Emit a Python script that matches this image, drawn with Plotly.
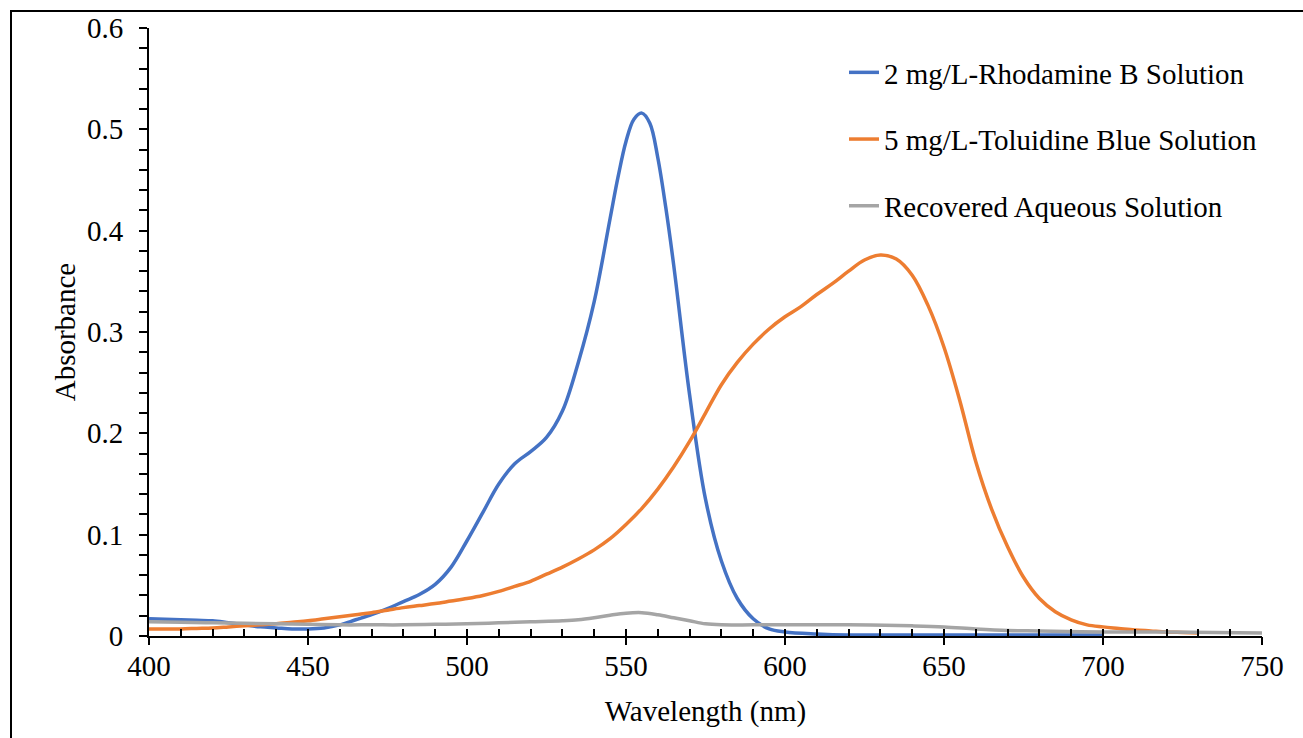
import plotly.graph_objects as go

# ---- data ----
rhodamine_nm = [400, 405, 410, 415, 420, 425, 430, 435, 440, 445, 450, 455, 460, 465, 470, 475, 480, 485,
                490, 495, 500, 505, 510, 515, 520, 525, 530, 535, 540, 545, 547.5, 550, 552.5, 555, 557.5,
                560, 562.5, 565, 570, 575, 580, 585, 590, 595, 600, 610, 620, 640, 660, 680, 700]
rhodamine_abs = [0.017, 0.0165, 0.016, 0.0155, 0.015, 0.013, 0.011, 0.009, 0.008, 0.007, 0.007, 0.008,
                 0.011, 0.016, 0.021, 0.027, 0.034, 0.041, 0.051, 0.068, 0.094, 0.122, 0.150, 0.170, 0.182,
                 0.196, 0.222, 0.270, 0.330, 0.412, 0.453, 0.488, 0.510, 0.516, 0.506, 0.472, 0.423, 0.366,
                 0.238, 0.135, 0.074, 0.037, 0.017, 0.007, 0.004, 0.002, 0.001, 0.001, 0.001, 0.001, 0.001]

toluidine_nm = [400, 405, 410, 415, 420, 425, 430, 435, 440, 445, 450, 455, 460, 465, 470, 475, 480, 485,
                490, 495, 500, 505, 510, 515, 520, 525, 530, 535, 540, 545, 550, 555, 560, 565, 570, 575,
                580, 585, 590, 595, 600, 605, 610, 615, 620, 625, 630, 635, 640, 645, 650, 655, 660, 665,
                670, 675, 680, 685, 690, 695, 700, 705, 710, 715, 720, 725, 730]
toluidine_abs = [0.007, 0.007, 0.007, 0.0075, 0.008, 0.009, 0.010, 0.011, 0.012, 0.0135, 0.015, 0.017,
                 0.019, 0.021, 0.023, 0.0255, 0.028, 0.030, 0.032, 0.0345, 0.037, 0.040, 0.044, 0.049,
                 0.054, 0.061, 0.068, 0.076, 0.085, 0.096, 0.110, 0.126, 0.145, 0.167, 0.192, 0.220, 0.248,
                 0.270, 0.288, 0.303, 0.315, 0.325, 0.337, 0.348, 0.360, 0.371, 0.376, 0.372, 0.356, 0.326,
                 0.285, 0.232, 0.172, 0.125, 0.088, 0.058, 0.037, 0.024, 0.016, 0.011, 0.009, 0.0075,
                 0.006, 0.005, 0.004, 0.0035, 0.003]

recovered_nm = [400, 410, 420, 430, 440, 450, 460, 470, 480, 490, 500, 510, 520, 530, 535, 540, 545, 550,
                555, 560, 565, 570, 575, 580, 590, 600, 620, 640, 650, 660, 670, 680, 700, 720, 750]
recovered_abs = [0.014, 0.0135, 0.013, 0.0125, 0.012, 0.0115, 0.011, 0.011, 0.011, 0.0115, 0.012, 0.013,
                 0.014, 0.015, 0.016, 0.018, 0.0205, 0.0225, 0.023, 0.021, 0.018, 0.015, 0.012, 0.011,
                 0.011, 0.011, 0.011, 0.010, 0.009, 0.007, 0.0055, 0.005, 0.004, 0.004, 0.003]

series_names = ["2 mg/L-Rhodamine B Solution", "5 mg/L-Toluidine Blue Solution", "Recovered Aqueous Solution"]
series_colors = ["#4472C4", "#ED7D31", "#A5A5A5"]

x_range = [400, 750]
y_range = [0, 0.6]
x_major_ticks = [400, 450, 500, 550, 600, 650, 700, 750]
y_major_ticks = [0, 0.1, 0.2, 0.3, 0.4, 0.5, 0.6]
y_tick_labels = ["0", "0.1", "0.2", "0.3", "0.4", "0.5", "0.6"]

FONT = "Liberation Serif, Times New Roman, serif"
FS = 29
W, H = 1303, 738
ML, MR, MT, MB = 149, 41, 28, 102
PW, PH = W - ML - MR, H - MT - MB

fig = go.Figure()
for i, (xs, ys) in enumerate([(rhodamine_nm, rhodamine_abs), (toluidine_nm, toluidine_abs),
                              (recovered_nm, recovered_abs)]):
    fig.add_trace(go.Scatter(
        x=xs, y=ys, mode="lines", name=series_names[i], legendgroup=f"g{i}",
        line=dict(color=series_colors[i], width=3.5, shape="spline", smoothing=1.0),
    ))

# invisible helper trace for the overlay axis (outer halves of major x ticks)
fig.add_trace(go.Scatter(x=x_range, y=[None, None], xaxis="x2", showlegend=False, hoverinfo="skip"))

fig.update_layout(
    width=W, height=H,
    margin=dict(l=ML, r=MR, t=MT, b=MB, autoexpand=False),
    paper_bgcolor="white", plot_bgcolor="white",
    font=dict(family=FONT, size=FS, color="black"),
    showlegend=True,
    legend=dict(
        x=(844 - ML) / PW, xanchor="left",
        y=(MT + PH - 47) / PH, yanchor="top",
        bgcolor="rgba(0,0,0,0)", borderwidth=0,
        font=dict(family=FONT, size=FS, color="black"),
        tracegroupgap=26,
        itemwidth=30,
    ),
    xaxis=dict(
        range=x_range, tickvals=x_major_ticks, ticks="inside", ticklen=7, tickwidth=2,
        tickcolor="black", showline=True, linecolor="black", linewidth=2, showgrid=False,
        zeroline=False, ticklabelstandoff=3,
        minor=dict(dtick=10, ticks="inside", ticklen=7, tickwidth=1.5, tickcolor="black", showgrid=False),
        title=dict(text="Wavelength (nm)", standoff=20, font=dict(family=FONT, size=FS)),
        automargin=False,
    ),
    xaxis2=dict(
        range=x_range, overlaying="x", anchor="y", side="bottom", tickvals=x_major_ticks,
        ticks="outside", ticklen=8, tickwidth=2, tickcolor="black", showticklabels=False,
        showline=False, showgrid=False, zeroline=False,
    ),
    yaxis=dict(
        range=y_range, tickvals=y_major_ticks, ticktext=y_tick_labels, ticks="outside", ticklen=8,
        tickwidth=2, tickcolor="black", showline=True, linecolor="black", linewidth=2,
        showgrid=False, zeroline=False, ticklabelstandoff=10,
        minor=dict(dtick=0.02, ticks="outside", ticklen=8, tickwidth=1.5, tickcolor="black", showgrid=False),
        title=dict(text="Absorbance", standoff=3, font=dict(family=FONT, size=FS)),
        automargin=False,
    ),
    shapes=[dict(
        type="rect", xref="paper", yref="paper", layer="below",
        x0=(11 - ML) / PW, x1=(1320 - ML) / PW,
        y0=(MT + PH - 760) / PH, y1=(MT + PH - 11) / PH,
        line=dict(color="black", width=2), fillcolor="rgba(0,0,0,0)",
    )],
)

fig.write_html("out.html")
